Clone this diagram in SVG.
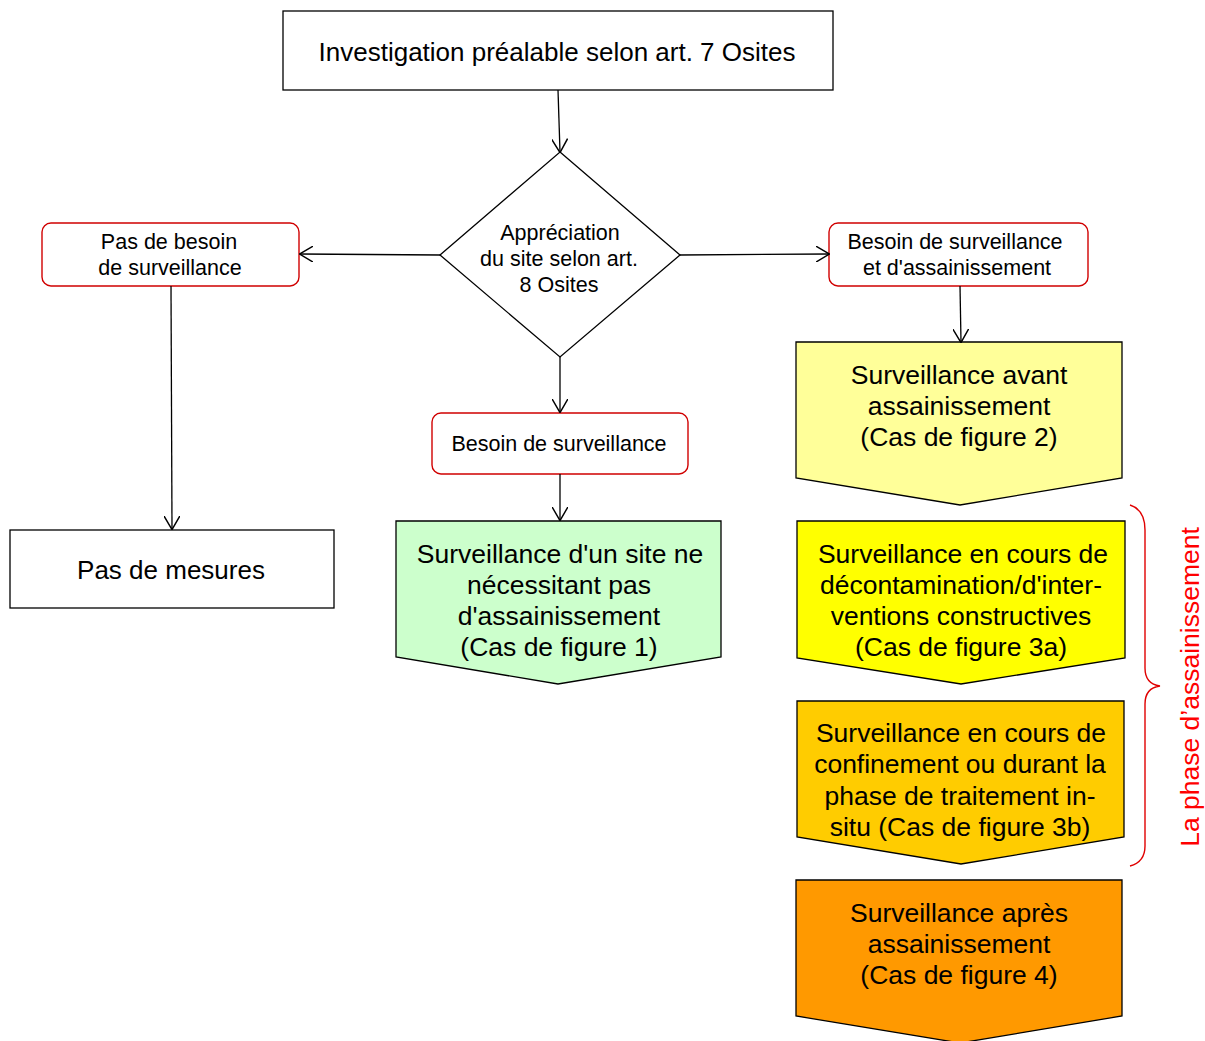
<svg xmlns="http://www.w3.org/2000/svg" width="1205" height="1041" viewBox="0 0 1205 1041">
<defs>
<marker id="arr" markerUnits="userSpaceOnUse" markerWidth="14" markerHeight="16" viewBox="0 0 12 14" refX="11.5" refY="7" orient="auto">
<path d="M0,0 L12,7 L0,14" fill="none" stroke="#000" stroke-width="1.3"/>
</marker>
</defs>
<style>
text{font-family:"Liberation Sans",Arial,sans-serif;fill:#000;text-anchor:middle}
.big{font-size:26.5px}
.ttl{font-size:26px}
.sm{font-size:21.5px}
.box{fill:#fff;stroke:#000;stroke-width:1.3}
.rbox{fill:#fff;stroke:#d00000;stroke-width:1.4}
.pent{stroke:#000;stroke-width:1.3}
.con{fill:none;stroke:#000;stroke-width:1.3;marker-end:url(#arr)}
</style>
<rect width="1205" height="1041" fill="#fff"/>

<g id="n-investigation">
<rect class="box" x="283" y="11" width="550" height="79"/>
<text class="ttl" x="557" y="61">Investigation préalable selon art. 7 Osites</text>
</g>

<g id="n-appreciation">
<polygon class="box" points="560,152 680,255 560,357 440,255"/>
<text class="sm" x="560" y="240">Appréciation</text>
<text class="sm" x="559" y="266">du site selon art.</text>
<text class="sm" x="559" y="292">8 Osites</text>
</g>

<g id="n-pas-besoin">
<rect class="rbox" x="42" y="223" width="257" height="63" rx="9"/>
<text class="sm" x="169" y="249">Pas de besoin</text>
<text class="sm" x="170" y="275">de surveillance</text>
</g>

<g id="n-besoin-assain">
<rect class="rbox" x="829" y="223" width="259" height="63" rx="9"/>
<text class="sm" x="955" y="249">Besoin de surveillance</text>
<text class="sm" x="957" y="275">et d'assainissement</text>
</g>

<g id="n-besoin">
<rect class="rbox" x="432" y="413" width="256" height="61" rx="9"/>
<text class="sm" x="559" y="451">Besoin de surveillance</text>
</g>

<g id="n-pas-mesures">
<rect class="box" x="10" y="530" width="324" height="78"/>
<text class="ttl" x="171" y="579">Pas de mesures</text>
</g>

<g id="n-cas1">
<polygon class="pent" fill="#ccffcc" points="396,521 721,521 721,657 558,684 396,657"/>
<text class="big" x="560" y="563">Surveillance d'un site ne</text>
<text class="big" x="559" y="594">nécessitant pas</text>
<text class="big" x="559" y="625">d'assainissement</text>
<text class="big" x="559" y="656">(Cas de figure 1)</text>
</g>

<g id="n-cas2">
<polygon class="pent" fill="#ffff99" points="796,342 1122,342 1122,478 960,505 796,478"/>
<text class="big" x="959" y="384">Surveillance avant</text>
<text class="big" x="959" y="415">assainissement</text>
<text class="big" x="959" y="446">(Cas de figure 2)</text>
</g>

<g id="n-cas3a">
<polygon class="pent" fill="#ffff00" points="797,521 1125,521 1125,658 961,684 797,658"/>
<text class="big" x="963" y="563">Surveillance en cours de</text>
<text class="big" x="961" y="594">décontamination/d'inter-</text>
<text class="big" x="961" y="625">ventions constructives</text>
<text class="big" x="961" y="656">(Cas de figure 3a)</text>
</g>

<g id="n-cas3b">
<polygon class="pent" fill="#ffcc00" points="797,701 1124,701 1124,837 961,864 797,837"/>
<text class="big" x="961" y="742">Surveillance en cours de</text>
<text class="big" x="960" y="773">confinement ou durant la</text>
<text class="big" x="960" y="805">phase de traitement in-</text>
<text class="big" x="960" y="836">situ (Cas de figure 3b)</text>
</g>

<g id="n-cas4">
<polygon class="pent" fill="#ff9900" points="796,880 1122,880 1122,1016 960,1043 796,1016"/>
<text class="big" x="959" y="922">Surveillance après</text>
<text class="big" x="959" y="953">assainissement</text>
<text class="big" x="959" y="984">(Cas de figure 4)</text>
</g>

<g id="phase-assainissement">
<path d="M1130,505 Q1145,510 1145,530 L1145,668 Q1145,684 1160,686 Q1145,688 1145,704 L1145,846 Q1145,862 1130,866" fill="none" stroke="#e00000" stroke-width="1.4"/>
<text x="1199" y="687" transform="rotate(-90 1199 687)" style="font-size:26.5px;fill:#ff0000">La phase d’assainissement</text>
</g>

<g id="connectors">
<path class="con" d="M558,90 L560,152"/>
<path class="con" d="M440,255 L300,254"/>
<path class="con" d="M680,255 L829,254"/>
<path class="con" d="M560,357 L560,412"/>
<path class="con" d="M171,286 L172,529"/>
<path class="con" d="M960,286 L961,342"/>
<path class="con" d="M560,474 L560,520"/>
</g>
</svg>
